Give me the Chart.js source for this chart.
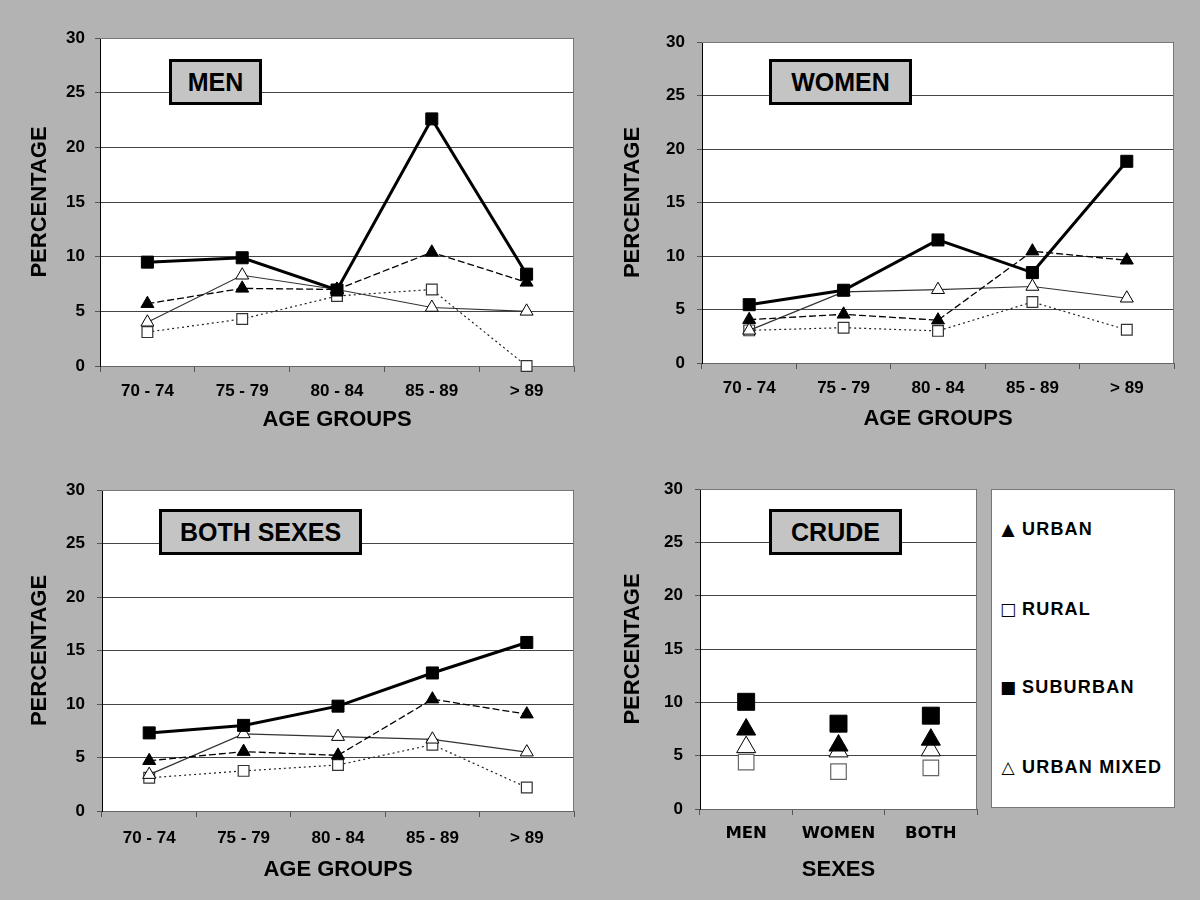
<!DOCTYPE html>
<html>
<head>
<meta charset="utf-8">
<script src="https://cdn.jsdelivr.net/npm/chart.js@4.4.1/dist/chart.umd.min.js"></script>
<style>
  html, body { margin: 0; padding: 0; }
  body { width: 1200px; height: 900px; background: #b3b3b3; position: relative; overflow: hidden;
         font-family: "Liberation Sans", Arial, sans-serif; }
  canvas { position: absolute; }
  .tbox { position: absolute; box-sizing: border-box; border: 3px solid #000; background: #c4c4c4;
          font: bold 25px "Liberation Sans", Arial, sans-serif; color: #000;
          display: flex; align-items: center; justify-content: center; }
  #legend { position: absolute; left: 991px; top: 489px; width: 184px; height: 319px; box-sizing: border-box;
            background: #fff; border: 1px solid #777; }
  .li { position: absolute; left: 7px; height: 24px; line-height: 24px; white-space: nowrap;
        font: bold 18px "Liberation Sans", Arial, sans-serif; letter-spacing: 1.2px; color: #000; }
  .sym { display: inline-block; width: 18px; text-align: center; font: 17px "DejaVu Sans", sans-serif; letter-spacing: 0; margin-right: 5px; }
</style>
</head>
<body>
<canvas id="cMen" width="590" height="445" style="left:0px;top:0px"></canvas>
<canvas id="cWomen" width="590" height="445" style="left:600px;top:0px"></canvas>
<canvas id="cBoth" width="590" height="450" style="left:0px;top:450px"></canvas>
<canvas id="cCrude" width="390" height="450" style="left:600px;top:450px"></canvas>

<div class="tbox" style="left:169px;top:59px;width:93px;height:46px">MEN</div>
<div class="tbox" style="left:769px;top:59px;width:143px;height:46px">WOMEN</div>
<div class="tbox" style="left:159px;top:509px;width:203px;height:46px">BOTH SEXES</div>
<div class="tbox" style="left:769px;top:509px;width:133px;height:46px">CRUDE</div>

<div id="legend">
  <div class="li" style="top:29px"><span class="sym">▲</span>URBAN</div>
  <div class="li" style="top:109px"><span class="sym">□</span>RURAL</div>
  <div class="li" style="top:187px"><span class="sym">■</span>SUBURBAN</div>
  <div class="li" style="top:267px"><span class="sym">△</span>URBAN MIXED</div>
</div>

<script>
// ---- data ----
const ageGroups = ['70 - 74', '75 - 79', '80 - 84', '85 - 89', '> 89'];
const sexes = ['MEN', 'WOMEN', 'BOTH'];
const seriesNames = ['URBAN', 'RURAL', 'SUBURBAN', 'URBAN MIXED'];
const yTickValues = [0, 5, 10, 15, 20, 25, 30];

const menUrban = [5.7, 7.1, 7.0, 10.4, 7.65];
const menRural = [3.1, 4.3, 6.4, 7.0, 0.0];
const menSuburban = [9.5, 9.9, 6.95, 22.6, 8.4];
const menUrbanMixed = [4.0, 8.3, 7.0, 5.35, 5.0];

const womenUrban = [4.05, 4.55, 4.0, 10.45, 9.6];
const womenRural = [3.05, 3.3, 3.0, 5.7, 3.1];
const womenSuburban = [5.45, 6.8, 11.5, 8.45, 18.85];
const womenUrbanMixed = [3.05, 6.65, 6.85, 7.15, 6.05];

const bothUrban = [4.7, 5.55, 5.2, 10.45, 9.05];
const bothRural = [3.1, 3.75, 4.3, 6.2, 2.2];
const bothSuburban = [7.3, 8.0, 9.8, 12.9, 15.75];
const bothUrbanMixed = [3.4, 7.2, 6.95, 6.7, 5.5];

const crudeUrban = [7.45, 5.95, 6.5];
const crudeRural = [4.4, 3.5, 3.85];
const crudeSuburban = [10.05, 8.0, 8.75];
const crudeUrbanMixed = [5.8, 5.4, 5.5];

// ---- styles ----
const FONT = '"Liberation Sans", Arial, sans-serif';

function lineDatasets(u, r, s, m, big) {
  return [
    { label: seriesNames[0], data: u, order: 1, borderColor: '#000', borderWidth: 1.3, borderDash: [7, 3],
      pointStyle: 'triangle', pointRadius: big ? 11 : 7.5, pointBackgroundColor: '#000', pointBorderColor: '#000', pointBorderWidth: 1,
      showLine: !big },
    { label: seriesNames[1], data: r, order: 3, borderColor: '#222', borderWidth: 1.2, borderDash: [2, 3],
      pointStyle: 'rect', pointRadius: big ? 11 : 7.6, pointBackgroundColor: '#fff', pointBorderColor: big ? '#666' : '#333', pointBorderWidth: 1.2,
      showLine: !big },
    { label: seriesNames[2], data: s, order: 0, borderColor: '#000', borderWidth: 3,
      pointStyle: 'rect', pointRadius: big ? 12 : 8.5, pointBackgroundColor: '#000', pointBorderColor: '#000', pointBorderWidth: 1,
      showLine: !big },
    { label: seriesNames[3], data: m, order: 2, borderColor: '#333', borderWidth: 1.2,
      pointStyle: 'triangle', pointRadius: big ? 11 : 7.5, pointBackgroundColor: '#fff', pointBorderColor: '#000', pointBorderWidth: 1,
      showLine: !big }
  ].map(d => Object.assign({ fill: false, tension: 0, clip: false, backgroundColor: d.pointBackgroundColor }, d));
}

const areaPlugin = {
  id: 'area',
  beforeDraw(chart) {
    const { ctx, chartArea: a } = chart;
    ctx.save();
    ctx.fillStyle = '#fff';
    ctx.fillRect(a.left, a.top, a.right - a.left, a.bottom - a.top);
    ctx.restore();
  },
  beforeDatasetsDraw(chart) {
    const { ctx, chartArea: a } = chart;
    ctx.save();
    ctx.strokeStyle = '#777';
    ctx.lineWidth = 1;
    ctx.beginPath();
    ctx.moveTo(a.left, Math.round(a.top) + 0.5);
    ctx.lineTo(Math.round(a.right) - 0.5, Math.round(a.top) + 0.5);
    ctx.lineTo(Math.round(a.right) - 0.5, a.bottom);
    ctx.stroke();
    ctx.restore();
  }
};

function makeChart(id, labels, datasets, g) {
  return new Chart(document.getElementById(id), {
    type: 'line',
    data: { labels: labels, datasets: datasets },
    plugins: [areaPlugin],
    options: {
      responsive: false,
      animation: false,
      devicePixelRatio: 1,
      layout: { padding: { top: g.padTop, right: g.padRight, left: 0, bottom: 0 } },
      plugins: { legend: { display: false }, tooltip: { enabled: false } },
      scales: {
        x: {
          type: 'category',
          offset: true,
          grid: { offset: true, drawOnChartArea: false, drawTicks: true, tickLength: 6, color: '#555' },
          border: { color: '#666', width: 1 },
          ticks: { color: '#000', padding: g.xTickPad, maxRotation: 0, autoSkip: false,
                   font: g.xTickFont },
          title: { display: true, text: g.xTitle, color: '#000',
                   font: { family: FONT, size: 22, weight: 'bold' },
                   padding: { top: 0, bottom: g.xTitlePad } },
          afterFit(s) { s.height = g.xHeight; }
        },
        y: {
          min: 0, max: 30,
          afterBuildTicks(s) { s.ticks = yTickValues.map(v => ({ value: v })); },
          grid: { color: '#444', lineWidth: 1, drawTicks: true, tickLength: 5, tickColor: '#555' },
          border: { color: '#000', width: 1 },
          ticks: { color: '#000', padding: g.yTickPad,
                   font: { family: FONT, size: 17, weight: 'bold' } },
          title: { display: true, text: 'PERCENTAGE', color: '#000',
                   font: { family: FONT, size: 22, weight: 'bold' },
                   padding: { top: g.yTitlePad, bottom: 0 } },
          afterFit(s) { s.width = g.yWidth; }
        }
      }
    }
  });
}

const ageFont = { family: FONT, size: 17, weight: 'bold' };
const sexFont = { family: '"DejaVu Sans", sans-serif', size: 16.5, weight: 'bold' };

makeChart('cMen', ageGroups, lineDatasets(menUrban, menRural, menSuburban, menUrbanMixed, false),
  { padTop: 38, padRight: 16, yWidth: 100, xHeight: 79, xTickPad: 9, xTitlePad: 11.8, yTitlePad: 26.8, yTickPad: 10,
    xTickFont: ageFont, xTitle: 'AGE GROUPS' });
makeChart('cWomen', ageGroups, lineDatasets(womenUrban, womenRural, womenSuburban, womenUrbanMixed, false),
  { padTop: 42, padRight: 16, yWidth: 102, xHeight: 82, xTickPad: 9, xTitlePad: 12.8, yTitlePad: 19.8, yTickPad: 12,
    xTickFont: ageFont, xTitle: 'AGE GROUPS' });
makeChart('cBoth', ageGroups, lineDatasets(bothUrban, bothRural, bothSuburban, bothUrbanMixed, false),
  { padTop: 40, padRight: 16, yWidth: 102, xHeight: 89, xTickPad: 10.8, xTitlePad: 16.8, yTitlePad: 26.8, yTickPad: 12,
    xTickFont: ageFont, xTitle: 'AGE GROUPS' });
makeChart('cCrude', sexes, lineDatasets(crudeUrban, crudeRural, crudeSuburban, crudeUrbanMixed, true),
  { padTop: 39, padRight: 8, yWidth: 100, xHeight: 91, xTickPad: 9, xTitlePad: 16.8, yTitlePad: 19.8, yTickPad: 12,
    xTickFont: sexFont, xTitle: 'SEXES' });
</script>
</body>
</html>
